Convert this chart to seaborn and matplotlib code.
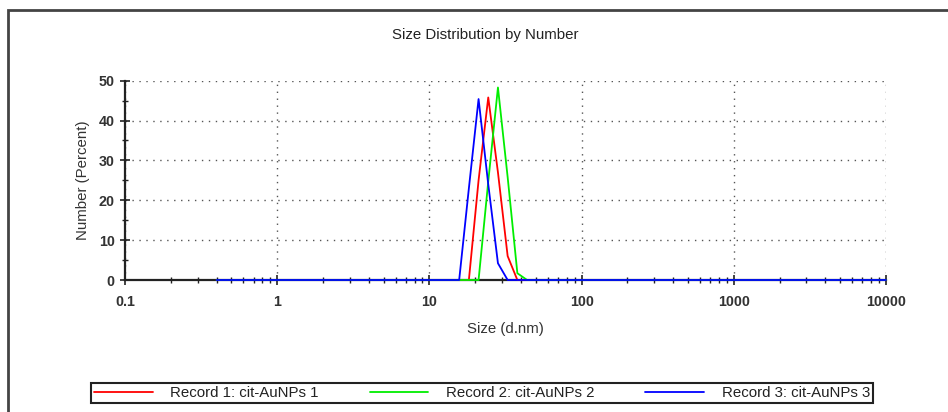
import matplotlib
matplotlib.use("Agg")
import matplotlib.pyplot as plt
from matplotlib.patches import Rectangle
from matplotlib.ticker import LogLocator, FixedLocator, NullFormatter, FuncFormatter
import numpy as np
import pandas as pd
import seaborn as sns

# Size classes (d.nm) of the DLS number distribution
size_bins = [0.4000, 0.4632, 0.5365, 0.6213, 0.7195, 0.8332, 0.9649, 1.117, 1.294, 1.499,
             1.736, 2.010, 2.328, 2.696, 3.122, 3.615, 4.187, 4.849, 5.615, 6.503,
             7.531, 8.721, 10.10, 11.70, 13.54, 15.69, 18.17, 21.04, 24.36, 28.21,
             32.67, 37.84, 43.82, 50.75, 58.77, 68.06, 78.82, 91.28, 105.7, 122.4,
             141.8, 164.2, 190.1, 220.2, 255.0, 295.3, 342.0, 396.1, 458.7, 531.2,
             615.1, 712.4, 825.0, 955.4, 1106, 1281, 1484, 1718, 1990, 2305,
             2669, 3091, 3580, 4145, 4801, 5560, 6439, 7456, 8635, 10000]

# Number (%) per size class for each record
record1 = [0.0] * 27 + [25.0, 45.8, 27.0, 6.0] + [0.0] * 39
record2 = [0.0] * 28 + [24.7, 48.3, 25.8, 1.7] + [0.0] * 38
record3 = [0.0] * 26 + [23.0, 45.4, 24.0, 4.2] + [0.0] * 40

record_names = ["Record 1: cit-AuNPs 1", "Record 2: cit-AuNPs 2", "Record 3: cit-AuNPs 3"]
record_colors = ["#ff0000", "#00ee00", "#0000ff"]

x_major = [0.1, 1, 10, 100, 1000, 10000]
x_labels = ["0.1", "1", "10", "100", "1000", "10000"]
y_major = [0, 10, 20, 30, 40, 50]

df = pd.concat([
    pd.DataFrame({"size": size_bins, "number": vals, "record": name})
    for name, vals in zip(record_names, [record1, record2, record3])
], ignore_index=True)

sns.set_style("white")
plt.rcParams["font.family"] = ["Liberation Sans", "DejaVu Sans"]

FS = 10.8
W, H = 948, 412
fig = plt.figure(figsize=(W / 100, H / 100), dpi=100)
ax = fig.add_axes([125 / W, 1 - 280 / H, (886 - 125) / W, (280 - 80.7) / H])

sns.lineplot(data=df, x="size", y="number", hue="record", palette=record_colors,
             hue_order=record_names, linewidth=1.3, ax=ax, legend=False,
             estimator=None, sort=False)
for ln in ax.get_lines():
    ln.set_clip_on(False)
    ln.set_zorder(3)

ax.set_xscale("log")
ax.set_xlim(0.1, 10000)
ax.set_ylim(0, 50)

ax.xaxis.set_major_locator(FixedLocator(x_major))
ax.xaxis.set_major_formatter(FuncFormatter(lambda v, p: x_labels[x_major.index(v)] if v in x_major else ""))
ax.xaxis.set_minor_locator(LogLocator(base=10, subs=np.arange(2, 10)))
ax.xaxis.set_minor_formatter(NullFormatter())
ax.yaxis.set_major_locator(FixedLocator(y_major))
ax.yaxis.set_minor_locator(FixedLocator([5, 15, 25, 35, 45]))

ax.tick_params(axis="both", which="both", bottom=True, left=True, top=False, right=False)
ax.tick_params(axis="x", which="major", pad=7)
ax.tick_params(axis="y", which="major", pad=4)
ax.tick_params(axis="both", which="major", direction="inout", length=7, width=1.2,
               color="#222222", labelsize=10.3, labelcolor="#333333")
ax.tick_params(axis="both", which="minor", direction="inout", length=5, width=1.0,
               color="#222222")
for lbl in ax.get_xticklabels() + ax.get_yticklabels():
    lbl.set_fontweight("bold")

# Dotted reference grid on the decades and every 10 %
ax.grid(True, which="major", linestyle=(0, (1, 4)), color="#555555", linewidth=1.0)
ax.set_axisbelow(True)

for side in ["top", "right"]:
    ax.spines[side].set_visible(False)
for side in ["left", "bottom"]:
    ax.spines[side].set_color("#222222")
    ax.spines[side].set_linewidth(1.6)

ax.set_xlabel("Size (d.nm)", fontsize=FS, color="#333333", labelpad=10)
ax.set_ylabel("Number (Percent)", fontsize=FS, color="#333333", labelpad=6)

fig.text(485 / W, 1 - 35 / H, "Size Distribution by Number", ha="center", va="center",
         fontsize=FS, color="#222222")

# Outer panel frame
fig.patches.append(Rectangle((8 / W, -0.2), 1.2, 1 - 10 / H + 0.2, transform=fig.transFigure,
                             fill=False, edgecolor="#444444", linewidth=2.0))

handles = [plt.Line2D([0], [0], color=c, linewidth=1.3) for c in record_colors]
leg = fig.legend(handles, record_names, ncol=3, mode="expand",
                 bbox_to_anchor=(91 / W, 1 - 403 / H, (873 - 91) / W, 24 / H),
                 loc="lower left", fontsize=FS, handlelength=3.9, handletextpad=1.2,
                 borderaxespad=0, borderpad=0.2, fancybox=False, framealpha=1,
                 edgecolor="#222222")
leg.get_frame().set_linewidth(1.5)
for t in leg.get_texts():
    t.set_color("#222222")

fig.savefig("out.png", dpi=100, facecolor="white")
